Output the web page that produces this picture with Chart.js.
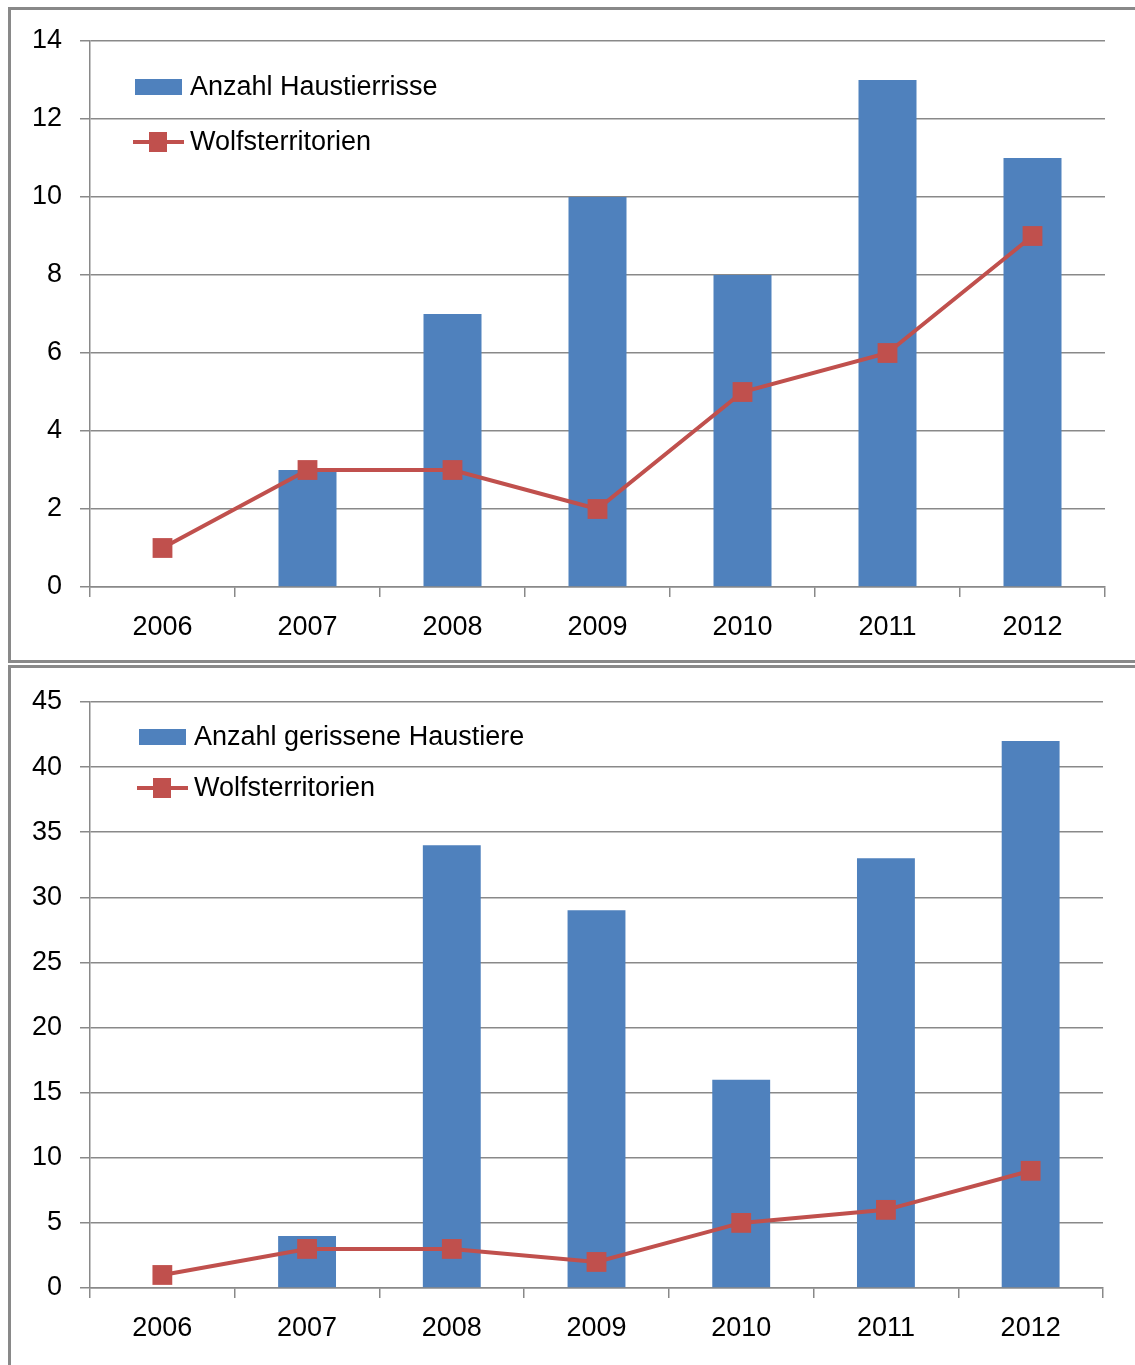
<!DOCTYPE html>
<html>
<head>
<meta charset="utf-8">
<script src="https://cdn.jsdelivr.net/npm/chart.js@4.4.1/dist/chart.umd.min.js"></script>
<style>
  body { margin: 0; background: #fff; width: 1135px; height: 1365px; overflow: hidden; position: relative; }
  .frame { position: absolute; left: 8px; width: 1200px; box-sizing: border-box; border: 3px solid #898989; }
  canvas { position: absolute; left: 0; }
</style>
</head>
<body>
<div class="frame" style="top:7px;height:656px;"></div>
<div class="frame" style="top:665px;height:800px;"></div>
<canvas id="chartRisse" width="1135" height="662" style="top:0"></canvas>
<canvas id="chartTiere" width="1135" height="698" style="top:667px"></canvas>
<script>
const jahre = ['2006', '2007', '2008', '2009', '2010', '2011', '2012'];
const haustierrisse = [0, 3, 7, 10, 8, 13, 11];
const gerisseneHaustiere = [0, 4, 34, 29, 16, 33, 42];
const wolfsterritorien = [1, 3, 3, 2, 5, 6, 9];
const yTicksOben = { max: 14, step: 2 };
const yTicksUnten = { max: 45, step: 5 };

const blau = '#4F81BD';
const rot = '#C0504D';
const grau = '#898989';
const schrift = { family: '"Liberation Sans", Arial, sans-serif', size: 27 };

// Legende innerhalb der Zeichenfläche
const legendePlugin = {
    id: 'legende',
    afterDraw(chart, args, opts) {
        const ctx = chart.ctx;
        const ds = chart.data.datasets;
        ctx.save();
        ctx.font = schrift.size + 'px ' + schrift.family;
        ctx.textBaseline = 'middle';
        // Balken
        ctx.fillStyle = ds[0].backgroundColor;
        ctx.fillRect(opts.x, opts.y1 - 8, 47, 16);
        ctx.fillStyle = '#000';
        ctx.fillText(ds[0].label, opts.x + 55, opts.y1 + 1);
        // Linie
        ctx.strokeStyle = ds[1].borderColor;
        ctx.lineWidth = 4;
        ctx.beginPath();
        ctx.moveTo(opts.x - 2, opts.y2);
        ctx.lineTo(opts.x + 49, opts.y2);
        ctx.stroke();
        ctx.fillStyle = ds[1].backgroundColor;
        ctx.fillRect(opts.x + 14, opts.y2 - 10, 18, 20);
        ctx.fillStyle = '#000';
        ctx.fillText(ds[1].label, opts.x + 55, opts.y2 + 1);
        ctx.restore();
    }
};

function macheChart(id, balkenLabel, balken, ticks, pad, xHoehe, legende) {
    new Chart(document.getElementById(id), {
        type: 'bar',
        data: {
            labels: jahre,
            datasets: [
                {
                    label: balkenLabel,
                    data: balken,
                    backgroundColor: blau,
                    barPercentage: 0.4,
                    categoryPercentage: 1,
                    order: 2
                },
                {
                    type: 'line',
                    label: 'Wolfsterritorien',
                    data: wolfsterritorien,
                    borderColor: rot,
                    backgroundColor: rot,
                    borderWidth: 4,
                    pointStyle: 'rect',
                    pointRadius: 14,
                    pointBorderWidth: 0,
                    tension: 0,
                    order: 1
                }
            ]
        },
        options: {
            responsive: false,
            devicePixelRatio: 1,
            animation: false,
            layout: { padding: pad },
            plugins: {
                legend: { display: false },
                tooltip: { enabled: false },
                legende: legende
            },
            scales: {
                x: {
                    offset: true,
                    grid: { offset: true, drawOnChartArea: false, color: grau, tickLength: 10, lineWidth: 1.5 },
                    border: { color: grau, width: 1.5 },
                    ticks: { color: '#000', font: schrift, padding: 14, maxRotation: 0 },
                    afterFit(scale) { scale.height = xHoehe; }
                },
                y: {
                    min: 0,
                    max: ticks.max,
                    grid: { color: grau, tickLength: 10, lineWidth: 1.5 },
                    border: { color: grau, width: 1.5 },
                    ticks: { stepSize: ticks.step, color: '#000', font: schrift, padding: 18 },
                    afterFit(scale) { scale.width = 90; }
                }
            }
        },
        plugins: [legendePlugin]
    });
}

macheChart('chartRisse', 'Anzahl Haustierrisse', haustierrisse, yTicksOben,
    { left: 0, right: 30, top: 41, bottom: 0 }, 75, { x: 135, y1: 87, y2: 142 });
macheChart('chartTiere', 'Anzahl gerissene Haustiere', gerisseneHaustiere, yTicksUnten,
    { left: 0, right: 32, top: 35, bottom: 0 }, 77, { x: 139, y1: 737 - 667, y2: 788 - 667 });
</script>
</body>
</html>
